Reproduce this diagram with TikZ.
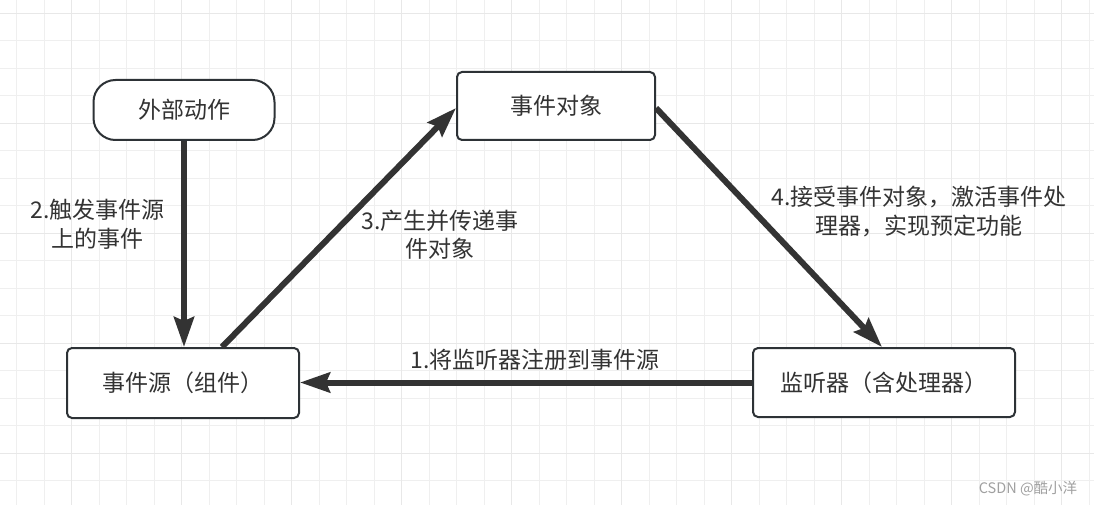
\documentclass[tikz,border=0pt]{standalone}
\usepackage{fontspec}
\setmainfont{Noto Sans CJK SC}
\usetikzlibrary{arrows.meta}
\definecolor{ink}{HTML}{333333}
\definecolor{edge}{HTML}{2D3236}
\definecolor{gridminor}{HTML}{EFEFEF}
\definecolor{gridmajor}{HTML}{E8E8E8}
\definecolor{mark}{HTML}{A0A0A0}
\tikzset{
  box/.style={draw=edge, line width=2pt, fill=white, rounded corners=5pt,
    inner sep=0pt, text=ink, font=\fontsize{23}{28}\selectfont},
  pill/.style={box, rounded corners=22pt},
  flow/.style={draw=ink, line width=6pt,
    -{Stealth[length=30pt, width=20pt, inset=4pt]}},
  note/.style={text=ink, align=center, inner sep=0pt,
    font=\fontsize{23}{28.5}\selectfont},
}
\begin{document}
\begin{tikzpicture}[x=1pt, y=-1pt]
  % canvas and background grid
  \fill[white] (0,0) rectangle (1094,505);
  \useasboundingbox (0,0) rectangle (1094,505);
  \foreach \i in {0,...,39} {
    \draw[gridminor, line width=1.2pt] (16.7+27.5*\i,0) -- (16.7+27.5*\i,505);
  }
  \foreach \j in {0,...,18} {
    \draw[gridminor, line width=1.2pt] (0,13.3+27.5*\j) -- (1094,13.3+27.5*\j);
  }
  \foreach \i in {0,...,9} {
    \draw[gridmajor, line width=1.4pt] (71.7+110*\i,0) -- (71.7+110*\i,505);
  }
  \foreach \j in {0,...,4} {
    \draw[gridmajor, line width=1.4pt] (0,13.3+110*\j) -- (1094,13.3+110*\j);
  }

  % nodes
  \node[pill, minimum width=181pt, minimum height=60pt] (ext) at (184,110) {外部动作};
  \node[box, minimum width=198pt, minimum height=68pt] (obj) at (556,106) {事件对象};
  \node[box, minimum width=232pt, minimum height=70pt] (src) at (183,383) {事件源（组件）};
  \node[box, minimum width=262pt, minimum height=69pt] (lis) at (884,382.5) {监听器（含处理器）};

  % connectors
  \draw[flow] (ext.south) -- (ext.south |- src.north);
  \draw[flow] ([xshift=39pt]src.north) -- ([yshift=-2pt]obj.west);
  \draw[flow] ([yshift=-2pt]obj.east) -- ([xshift=-2pt]lis.north);
  \draw[flow] (lis.west) -- (lis.west -| src.east);

  % connector labels
  \node[note] (l2) at (97.5,224) {2.触发事件源\\上的事件};
  \node[note] (l3) at (440,234.5) {3.产生并传递事\\件对象};
  \node[note] (l4) at (919,211.5) {4.接受事件对象，激活事件处\\理器，实现预定功能};
  \node[note] (l1) at (535,360) {1.将监听器注册到事件源};

  % watermark
  \node[text=mark, inner sep=0pt, font=\fontsize{14.5}{16}\selectfont] (wm) at (1028,489) {CSDN @酷小洋};
\end{tikzpicture}
\end{document}
